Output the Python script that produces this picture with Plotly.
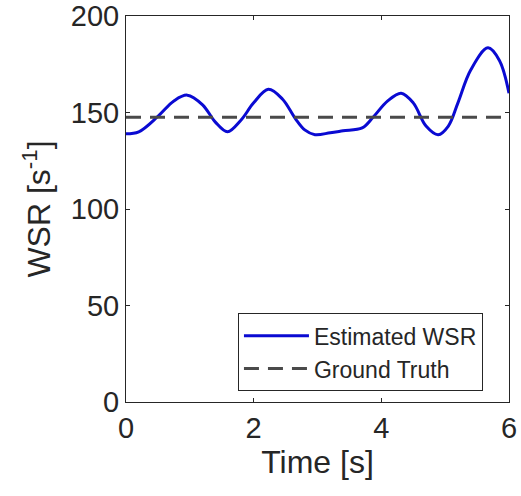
import plotly.graph_objects as go

# values
time_s = [0.0, 0.2, 0.5, 0.75, 0.96, 1.2, 1.4, 1.59, 1.8, 2.0, 2.23, 2.45, 2.65, 2.8,
          2.96, 3.2, 3.4, 3.7, 3.87, 4.1, 4.31, 4.5, 4.7, 4.89, 5.05, 5.2, 5.4, 5.67,
          5.85, 6.0]
wsr_est = [139, 140, 148, 156, 159, 154, 145, 140, 146, 155, 162, 157, 147, 141,
           138.5, 139.5, 140.5, 142, 147.5, 156, 160, 155, 143, 138.5, 143, 155, 172,
           183.5, 177, 160]
ground_truth = 147.5

x_ticks = [0, 2, 4, 6]
y_ticks = [0, 50, 100, 150, 200]

FONT = "Arial, Liberation Sans, Helvetica, sans-serif"
AXIS = "#262626"

fig = go.Figure()
fig.add_trace(go.Scatter(
    x=time_s, y=wsr_est, mode="lines", name="Estimated WSR",
    line=dict(color="#0a0ad2", width=3, shape="spline", smoothing=1.0),
))
fig.add_trace(go.Scatter(
    x=[time_s[0], time_s[-1]], y=[ground_truth, ground_truth], mode="lines",
    name="Ground Truth", line=dict(color="#4a4a4a", width=3, dash="15px,9px"),
))

fig.update_layout(
    width=521,
    height=496,
    margin=dict(l=126, r=12, t=16, b=94),
    paper_bgcolor="#ffffff",
    plot_bgcolor="#ffffff",
    font=dict(family=FONT, color=AXIS, size=29),
    showlegend=True,
    legend=dict(
        x=0.932, y=0.028, xanchor="right", yanchor="bottom",
        bgcolor="#ffffff", bordercolor=AXIS, borderwidth=1,
        font=dict(size=23, color=AXIS), itemwidth=65,
        tracegroupgap=0,
    ),
)
fig.update_xaxes(
    range=[0, 6], tickvals=x_ticks, showgrid=False, zeroline=False,
    showline=True, linecolor=AXIS, linewidth=1, mirror="ticks",
    ticks="inside", ticklen=4, tickcolor=AXIS, automargin=False,
    title=dict(text="Time [s]", font=dict(size=32), standoff=6),
)
fig.update_yaxes(
    range=[0, 200], tickvals=y_ticks, showgrid=False, zeroline=False,
    showline=True, linecolor=AXIS, linewidth=1, mirror="ticks",
    ticks="inside", ticklen=4, tickcolor=AXIS, automargin=False,
    title=dict(text="WSR [s<sup>-1</sup>]", font=dict(size=32), standoff=10),
)

# page body has a default 8px margin; drop it so the figure fills the window
fig.write_html(
    "out.html",
    config={"displayModeBar": False},
    post_script="document.body.style.margin='0';document.body.style.overflow='hidden';",
)
